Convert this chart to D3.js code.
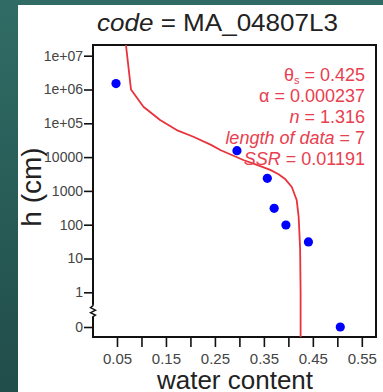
<!DOCTYPE html>
<html>
<head>
<meta charset="utf-8">
<script src="https://cdn.jsdelivr.net/npm/d3@7"></script>
<style>
  html, body { margin: 0; padding: 0; background: #26554f; }
  svg { display: block; font-family: "Liberation Sans", Arial, sans-serif; }
</style>
</head>
<body>
<div id="chart"></div>
<script>
// measured points (water content vs suction head h in cm)
const obsTheta = [0.048, 0.295, 0.357, 0.371, 0.395, 0.441, 0.506];
const obsH = [1.5e6, 1.55e4, 2360, 305, 98, 31, 0];

// fitted retention curve
const fitTheta = [0.063, 0.0786, 0.104, 0.138, 0.172, 0.206, 0.242, 0.262, 0.308, 0.340, 0.363, 0.380, 0.394, 0.407, 0.417, 0.421, 0.424, 0.425, 0.425, 0.425];
const fitH = [1e8, 1e6, 3.1e5, 1.25e5, 6.3e4, 4.0e4, 2.3e4, 1.6e4, 8.2e3, 5.6e3, 4.2e3, 3.1e3, 2.2e3, 1.3e3, 540, 170, 20, 1, 0, -0.3];

// axis ticks
const xTickValues = [0.05, 0.10, 0.15, 0.20, 0.25, 0.30, 0.35, 0.40, 0.45, 0.50, 0.55];
const xLabelValues = [0.05, 0.15, 0.25, 0.35, 0.45, 0.55];
const yTickValues = [0, 1, 10, 100, 1000, 10000, 1e5, 1e6, 1e7];
const yTickLabels = ["0", "1", "10", "100", "1000", "10000", "1e+05", "1e+06", "1e+07"];

// fit parameters shown in the panel
const fitLabels = [
  { name: "θ", sub: "s", value: "0.425", italic: false },
  { name: "α", sub: null, value: "0.000237", italic: false },
  { name: "n", sub: null, value: "1.316", italic: true },
  { name: "length of data", sub: null, value: "7", italic: true },
  { name: "SSR", sub: null, value: "0.01191", italic: true }
];
const siteCode = "MA_04807L3";

const width = 383;
const height = 392;
const box = { left: 93, right: 376, top: 45, bottom: 337 };
const red = "#e8333c";

const svg = d3.select("#chart")
  .append("svg")
  .attr("width", width)
  .attr("height", height);

// slide background + white panel
const defs = svg.append("defs");
const grad = defs.append("linearGradient")
  .attr("id", "bg")
  .attr("x1", 0).attr("y1", 0).attr("x2", 0).attr("y2", 1);
grad.append("stop").attr("offset", "0%").attr("stop-color", "#306c65");
grad.append("stop").attr("offset", "100%").attr("stop-color", "#214d4a");

svg.append("rect")
  .attr("width", width)
  .attr("height", height)
  .attr("fill", "url(#bg)");

svg.append("rect")
  .attr("x", 18)
  .attr("y", 5)
  .attr("width", width - 18)
  .attr("height", height - 5)
  .attr("fill", "#ffffff");

defs.append("clipPath")
  .attr("id", "plotClip")
  .append("rect")
  .attr("x", box.left)
  .attr("y", box.top)
  .attr("width", box.right - box.left)
  .attr("height", box.bottom - box.top);

const x = d3.scaleLinear()
  .domain([0, 0.58])
  .range([box.left - 0.5, box.right + 0.5]);

// log part for h >= 1, linear stub below the axis break for h < 1
const yLog = d3.scaleLog()
  .domain([1, 1e7])
  .range([292.3, 55.7]);
const yLow = d3.scaleLinear()
  .domain([0, 1])
  .range([327, yLog(1)]);
const y = h => (h >= 1 ? yLog(h) : yLow(h));

// x axis
const xAxis = svg.append("g")
  .attr("transform", "translate(0," + (box.bottom + 1) + ")")
  .call(d3.axisBottom(x)
    .tickValues(xTickValues)
    .tickSize(9)
    .tickPadding(6)
    .tickFormat(d => xLabelValues.some(v => Math.abs(v - d) < 1e-9) ? d3.format(".2f")(d) : ""));
xAxis.select(".domain").remove();
xAxis.selectAll("text")
  .attr("fill", "#444")
  .style("font-size", "15px");

// y axis
const yAxis = svg.append("g")
  .attr("transform", "translate(" + box.left + ",0)")
  .call(d3.axisLeft(yLog)
    .tickValues(yTickValues.slice(1))
    .tickSize(9)
    .tickPadding(1)
    .tickFormat((d, i) => yTickLabels[i + 1]));
yAxis.select(".domain").remove();

const zeroTick = svg.append("g")
  .attr("transform", "translate(" + box.left + ",0)")
  .call(d3.axisLeft(yLow)
    .tickValues([yTickValues[0]])
    .tickSize(9)
    .tickPadding(1)
    .tickFormat(() => yTickLabels[0]));
zeroTick.select(".domain").remove();

svg.selectAll(".tick line").attr("stroke", "#111").attr("stroke-width", 1.6);
yAxis.selectAll("text").attr("fill", "#444").style("font-size", "14px");
zeroTick.selectAll("text").attr("fill", "#444").style("font-size", "14px");

// plot frame
svg.append("rect")
  .attr("x", box.left)
  .attr("y", box.top)
  .attr("width", box.right - box.left)
  .attr("height", box.bottom - box.top)
  .attr("fill", "none")
  .attr("stroke", "#111")
  .attr("stroke-width", 2);

// axis break marker between 0 and 1
const yb = (yLow(0) + yLog(1)) / 2 + 1;
svg.append("rect")
  .attr("x", box.left - 3)
  .attr("y", yb - 6)
  .attr("width", 6)
  .attr("height", 12)
  .attr("fill", "#fff");
svg.append("path")
  .attr("d", "M" + box.left + "," + (yb - 7) + " l0,2 l-2.5,2 l5,2.5 l-5,2.5 l5,2.5 l-2.5,1.5 l0,2")
  .attr("fill", "none")
  .attr("stroke", "#111")
  .attr("stroke-width", 1.4);

// fitted curve
svg.append("path")
  .datum(fitTheta.map((t, i) => [t, fitH[i]]))
  .attr("clip-path", "url(#plotClip)")
  .attr("fill", "none")
  .attr("stroke", red)
  .attr("stroke-width", 1.8)
  .attr("stroke-linejoin", "round")
  .attr("d", d3.line()
    .x(d => x(d[0]))
    .y(d => y(d[1])));

// observations
svg.selectAll("circle.obs")
  .data(obsTheta.map((t, i) => [t, obsH[i]]))
  .enter()
  .append("circle")
  .attr("class", "obs")
  .attr("cx", d => x(d[0]))
  .attr("cy", d => y(d[1]))
  .attr("r", 4.6)
  .attr("fill", "#0000ff");

// parameter text, right aligned in the top corner
const paramText = svg.append("g")
  .attr("fill", "#e8404f")
  .style("font-size", "18px");
fitLabels.forEach((p, i) => {
  const t = paramText.append("text")
    .attr("x", 365)
    .attr("y", 81 + i * 21)
    .attr("text-anchor", "end");
  t.append("tspan")
    .style("font-style", p.italic ? "italic" : "normal")
    .text(p.name);
  if (p.sub) {
    t.append("tspan")
      .attr("dy", 3)
      .style("font-size", "11px")
      .text(p.sub);
    t.append("tspan").attr("dy", -3).text(" = " + p.value);
  } else {
    t.append("tspan").text(" = " + p.value);
  }
});

// title
const title = svg.append("text")
  .attr("x", 97)
  .attr("y", 31)
  .attr("fill", "#222")
  .attr("textLength", 241)
  .attr("lengthAdjust", "spacingAndGlyphs")
  .style("font-size", "23px");
title.append("tspan").style("font-style", "italic").text("code");
title.append("tspan").text(" = " + siteCode);

// axis titles
svg.append("text")
  .attr("x", 235)
  .attr("y", 389)
  .attr("text-anchor", "middle")
  .attr("fill", "#222")
  .style("font-size", "26px")
  .text("water content");

svg.append("text")
  .attr("transform", "translate(41,187)rotate(-90)")
  .attr("text-anchor", "middle")
  .attr("fill", "#222")
  .style("font-size", "28px")
  .text("h (cm)");
</script>
</body>
</html>
